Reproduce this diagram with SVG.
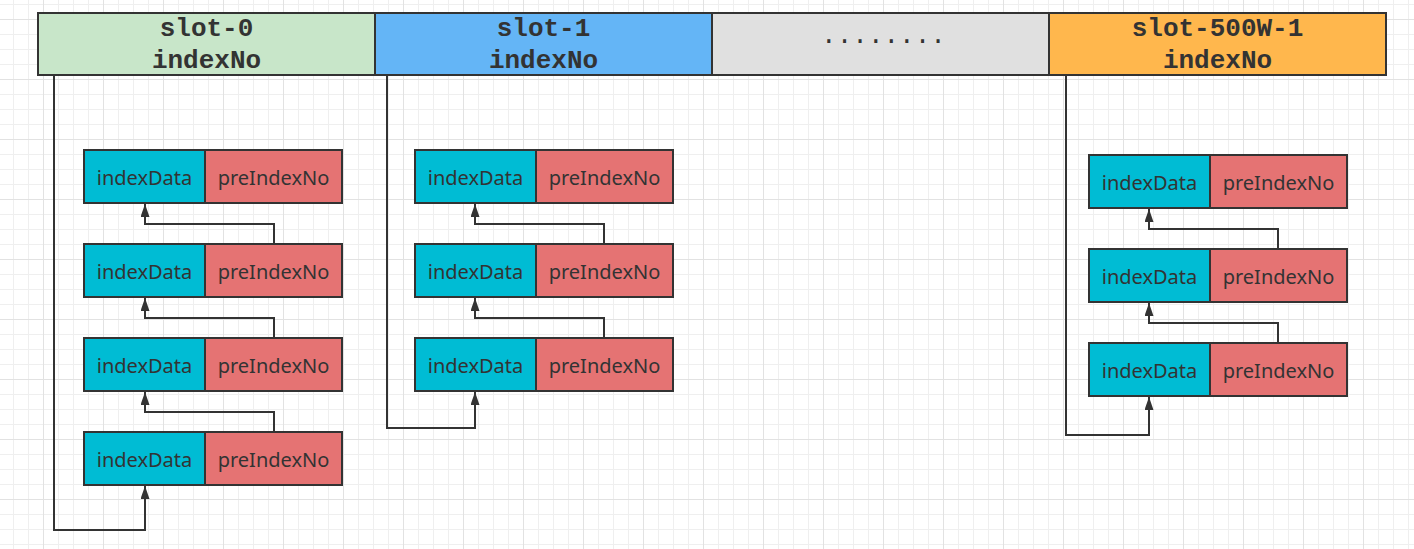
<svg xmlns="http://www.w3.org/2000/svg" width="1414" height="549" viewBox="0 0 1414 549">
  <defs>
    <pattern id="grid" patternUnits="userSpaceOnUse" x="13" y="4" width="60" height="60">
      <rect width="60" height="60" fill="#ffffff"/>
      <g fill="#efefef">
        <rect x="0" y="0" width="1" height="60"/>
        <rect x="15" y="0" width="1" height="60"/>
        <rect x="45" y="0" width="1" height="60"/>
        <rect x="0" y="0" width="60" height="1"/>
        <rect x="0" y="30" width="60" height="1"/>
        <rect x="0" y="45" width="60" height="1"/>
      </g>
      <g fill="#e2e2e2">
        <rect x="30" y="0" width="1" height="60"/>
        <rect x="0" y="15" width="60" height="1"/>
      </g>
    </pattern>
    <marker id="arrow" viewBox="0 0 13 9" refX="13" refY="4.5" markerWidth="13" markerHeight="9" markerUnits="userSpaceOnUse" orient="auto">
      <path d="M0,0 L13,4.5 L0,9 z" fill="#333333"/>
    </marker>
  </defs>
  <style>
    .box { stroke: #333333; stroke-width: 2; }
    .slot-text { font-family: "Liberation Mono", "Courier New", monospace; font-size: 26px; font-weight: bold; fill: #333333; text-anchor: middle; }
    .dots { font-family: "Liberation Mono", "Courier New", monospace; font-size: 26px; fill: #333333; text-anchor: middle; }
    .cell-text { font-family: "Noto Sans", "Liberation Sans", sans-serif; font-size: 20px; fill: #333333; text-anchor: middle; }
    .data { fill: #00BCD4; }
    .pre { fill: #E57373; }
    .conn { fill: none; stroke: #333333; stroke-width: 2; }
  </style>

  <rect x="0" y="0" width="1414" height="549" fill="url(#grid)"/>

  <!-- top slots -->
  <g id="slot-0">
    <rect class="box" x="38" y="13" width="337" height="62" fill="#C8E6C9"/>
    <text class="slot-text" x="206.5" y="36">slot-0</text>
    <text class="slot-text" x="206.5" y="68">indexNo</text>
  </g>
  <g id="slot-1">
    <rect class="box" x="375" y="13" width="337" height="62" fill="#64B5F6"/>
    <text class="slot-text" x="543.5" y="36">slot-1</text>
    <text class="slot-text" x="543.5" y="68">indexNo</text>
  </g>
  <g id="slot-dots">
    <rect class="box" x="712" y="13" width="337" height="62" fill="#E0E0E0"/>
    <text class="dots" x="883.5" y="43">........</text>
  </g>
  <g id="slot-500W-1">
    <rect class="box" x="1049" y="13" width="337" height="62" fill="#FFB74D"/>
    <text class="slot-text" x="1217.5" y="36">slot-500W-1</text>
    <text class="slot-text" x="1217.5" y="68">indexNo</text>
  </g>

  <!-- column 1 items -->
  <g id="s0-item-1">
    <rect class="box data" x="84" y="150" width="121" height="53"/>
    <rect class="box pre" x="205" y="150" width="137" height="53"/>
    <text class="cell-text" x="144.5" y="185">indexData</text>
    <text class="cell-text" x="273.5" y="185">preIndexNo</text>
  </g>
  <g id="s0-item-2">
    <rect class="box data" x="84" y="244" width="121" height="53"/>
    <rect class="box pre" x="205" y="244" width="137" height="53"/>
    <text class="cell-text" x="144.5" y="279">indexData</text>
    <text class="cell-text" x="273.5" y="279">preIndexNo</text>
  </g>
  <g id="s0-item-3">
    <rect class="box data" x="84" y="338" width="121" height="53"/>
    <rect class="box pre" x="205" y="338" width="137" height="53"/>
    <text class="cell-text" x="144.5" y="373">indexData</text>
    <text class="cell-text" x="273.5" y="373">preIndexNo</text>
  </g>
  <g id="s0-item-4">
    <rect class="box data" x="84" y="432" width="121" height="53"/>
    <rect class="box pre" x="205" y="432" width="137" height="53"/>
    <text class="cell-text" x="144.5" y="467">indexData</text>
    <text class="cell-text" x="273.5" y="467">preIndexNo</text>
  </g>

  <!-- column 2 items -->
  <g id="s1-item-1">
    <rect class="box data" x="415" y="150" width="121" height="53"/>
    <rect class="box pre" x="536" y="150" width="137" height="53"/>
    <text class="cell-text" x="475.5" y="185">indexData</text>
    <text class="cell-text" x="604.5" y="185">preIndexNo</text>
  </g>
  <g id="s1-item-2">
    <rect class="box data" x="415" y="244" width="121" height="53"/>
    <rect class="box pre" x="536" y="244" width="137" height="53"/>
    <text class="cell-text" x="475.5" y="279">indexData</text>
    <text class="cell-text" x="604.5" y="279">preIndexNo</text>
  </g>
  <g id="s1-item-3">
    <rect class="box data" x="415" y="338" width="121" height="53"/>
    <rect class="box pre" x="536" y="338" width="137" height="53"/>
    <text class="cell-text" x="475.5" y="373">indexData</text>
    <text class="cell-text" x="604.5" y="373">preIndexNo</text>
  </g>

  <!-- column 3 items -->
  <g id="s500W-item-1">
    <rect class="box data" x="1089" y="155" width="121" height="53"/>
    <rect class="box pre" x="1210" y="155" width="137" height="53"/>
    <text class="cell-text" x="1149.5" y="190">indexData</text>
    <text class="cell-text" x="1278.5" y="190">preIndexNo</text>
  </g>
  <g id="s500W-item-2">
    <rect class="box data" x="1089" y="249" width="121" height="53"/>
    <rect class="box pre" x="1210" y="249" width="137" height="53"/>
    <text class="cell-text" x="1149.5" y="284">indexData</text>
    <text class="cell-text" x="1278.5" y="284">preIndexNo</text>
  </g>
  <g id="s500W-item-3">
    <rect class="box data" x="1089" y="343" width="121" height="53"/>
    <rect class="box pre" x="1210" y="343" width="137" height="53"/>
    <text class="cell-text" x="1149.5" y="378">indexData</text>
    <text class="cell-text" x="1278.5" y="378">preIndexNo</text>
  </g>

  <!-- connectors -->
  <g id="connectors">
    <path class="conn" d="M54,76 V530 H145 V486" marker-end="url(#arrow)"/>
    <path class="conn" d="M274,431 V412 H145 V392" marker-end="url(#arrow)"/>
    <path class="conn" d="M274,337 V318 H145 V298" marker-end="url(#arrow)"/>
    <path class="conn" d="M274,243 V224 H145 V204" marker-end="url(#arrow)"/>

    <path class="conn" d="M387,76 V428 H475 V392" marker-end="url(#arrow)"/>
    <path class="conn" d="M604,337 V318 H475 V298" marker-end="url(#arrow)"/>
    <path class="conn" d="M604,243 V224 H475 V204" marker-end="url(#arrow)"/>

    <path class="conn" d="M1066,76 V435 H1149 V397" marker-end="url(#arrow)"/>
    <path class="conn" d="M1278,342 V323 H1149 V303" marker-end="url(#arrow)"/>
    <path class="conn" d="M1278,248 V229 H1149 V209" marker-end="url(#arrow)"/>
  </g>
</svg>
